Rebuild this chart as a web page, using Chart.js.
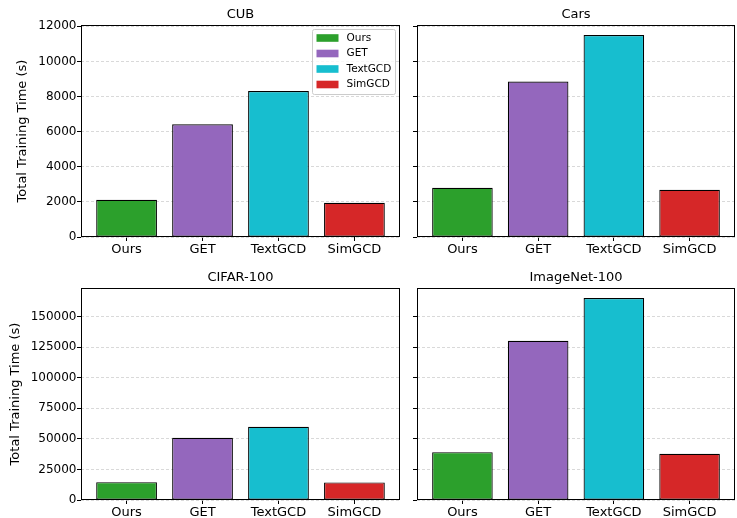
<!DOCTYPE html>
<html lang="en">
<head>
<meta charset="UTF-8">
<title>Total Training Time</title>
<script src="https://cdn.jsdelivr.net/npm/chart.js@4.4.0/dist/chart.umd.min.js"></script>
<style>
  body { margin: 0; background: #fff; }
  #fig { position: relative; width: 737px; height: 518px; }
  #fig canvas { position: absolute; }
</style>
</head>
<body>
<div id="fig">
  <canvas id="cub" width="405" height="260" style="left:0;top:0"></canvas>
  <canvas id="cars" width="332" height="260" style="left:405px;top:0"></canvas>
  <canvas id="cifar" width="405" height="258" style="left:0;top:260px"></canvas>
  <canvas id="imagenet" width="332" height="258" style="left:405px;top:260px"></canvas>
</div>
<script>
// values (seconds)
const methods = ["Ours", "GET", "TextGCD", "SimGCD"];
const methodColors = ["#2ca02c", "#9467bd", "#17becf", "#d62728"];
const cubTimes = [2120, 6420, 8310, 1950];
const carsTimes = [2800, 8860, 11500, 2690];
const cifarTimes = [14600, 50800, 59800, 14400];
const imagenetTimes = [39100, 130100, 165000, 37800];
const topTicks = [0, 2000, 4000, 6000, 8000, 10000, 12000];
const bottomTicks = [0, 25000, 50000, 75000, 100000, 125000, 150000];

Chart.defaults.font.family = "'DejaVu Sans', sans-serif";
Chart.defaults.color = "#000";
Chart.defaults.animation = false;

// panel title + black frame around the plot area
const framePlugin = {
    id: "frame",
    afterDraw(chart, args, opts) {
        const ca = chart.chartArea;
        const ctx = chart.ctx;
        ctx.save();
        ctx.strokeStyle = "#000";
        ctx.lineWidth = 1;
        ctx.strokeRect(Math.round(ca.left) + 0.5, Math.round(ca.top) + 0.5,
            Math.round(ca.right - ca.left) - 1, Math.round(ca.bottom - ca.top) - 1);
        ctx.font = "13px 'DejaVu Sans'";
        ctx.fillStyle = "#000";
        ctx.textAlign = "center";
        ctx.textBaseline = "alphabetic";
        ctx.fillText(opts.text, (ca.left + ca.right) / 2, ca.top - 7.5);
        ctx.restore();
    }
};

// matplotlib-like legend box in the upper right corner
const boxLegend = {
    id: "boxLegend",
    afterDraw(chart, args, opts) {
        if (!opts.show) return;
        const ca = chart.chartArea;
        const ctx = chart.ctx;
        const w = 83, h = 65;
        const x = ca.right - 4.5 - w, y = ca.top + 4.5;
        ctx.save();
        ctx.fillStyle = "rgba(255,255,255,0.8)";
        ctx.strokeStyle = "#cccccc";
        ctx.lineWidth = 1;
        ctx.beginPath();
        ctx.roundRect(x, y, w, h, 2);
        ctx.fill();
        ctx.stroke();
        ctx.font = "10.5px 'DejaVu Sans'";
        ctx.textBaseline = "middle";
        methods.forEach((m, i) => {
            const cy = y + 8.5 + i * 15.5;
            ctx.fillStyle = methodColors[i];
            ctx.fillRect(x + 4, cy - 3.8, 22, 7.6);
            ctx.fillStyle = "#000";
            ctx.fillText(m, x + 34, cy);
        });
        ctx.restore();
    }
};

function makePanel(id, title, times, tickVals, yMax, opt) {
    new Chart(document.getElementById(id), {
        type: "bar",
        data: {
            datasets: [{
                data: times.map((v, i) => ({ x: i, y: v })),
                backgroundColor: methodColors,
                borderColor: "#000",
                borderWidth: 1.2,
                borderSkipped: false,
                barPercentage: 0.8,
                categoryPercentage: 1
            }]
        },
        options: {
            responsive: false,
            layout: { padding: { top: opt.top, right: opt.right, left: 0, bottom: 0 } },
            plugins: {
                legend: { display: false },
                tooltip: { enabled: false },
                frame: { text: title },
                boxLegend: { show: !!opt.legend }
            },
            scales: {
                x: {
                    type: "linear",
                    min: -0.6,
                    max: 3.6,
                    offset: false,
                    afterBuildTicks: s => { s.ticks = methods.map((m, i) => ({ value: i })); },
                    afterFit: s => { s.height = opt.xh; },
                    ticks: {
                        callback: v => methods[v],
                        font: { size: 13 },
                        padding: 1,
                        maxRotation: 0,
                        autoSkip: false
                    },
                    grid: { offset: false, drawOnChartArea: false, tickLength: 4, tickColor: "#000", tickWidth: 1 },
                    border: { display: false }
                },
                y: {
                    min: 0,
                    max: yMax,
                    afterBuildTicks: s => { s.ticks = tickVals.map(v => ({ value: v })); },
                    afterFit: s => { s.width = opt.yw; },
                    ticks: {
                        callback: v => opt.labels ? String(v) : "",
                        font: { size: 12 },
                        padding: 0.5
                    },
                    grid: {
                        color: "#cfcfcf",
                        lineWidth: 0.8,
                        tickLength: 4,
                        tickColor: "#000",
                        tickWidth: 1,
                        tickBorderDash: []
                    },
                    border: { display: false, dash: [3, 2] },
                    title: {
                        display: !!opt.labels,
                        text: "Total Training Time (s)",
                        font: { size: 13 },
                        padding: { top: opt.titlePad, bottom: 0 }
                    }
                }
            }
        },
        plugins: [framePlugin, boxLegend]
    });
}

const topMax = Math.max(...cubTimes, ...carsTimes) * 1.05;
const bottomMax = Math.max(...cifarTimes, ...imagenetTimes) * 1.05;

makePanel("cub", "CUB", cubTimes, topTicks, topMax,
    { top: 25, right: 5, xh: 23, yw: 81, labels: true, titlePad: 14.7, legend: true });
makePanel("cars", "Cars", carsTimes, topTicks, topMax,
    { top: 25, right: 2, xh: 23, yw: 12, labels: false });
makePanel("cifar", "CIFAR-100", cifarTimes, bottomTicks, bottomMax,
    { top: 28, right: 5, xh: 18, yw: 81, labels: true, titlePad: 8.2 });
makePanel("imagenet", "ImageNet-100", imagenetTimes, bottomTicks, bottomMax,
    { top: 28, right: 2, xh: 18, yw: 12, labels: false });
</script>
</body>
</html>
